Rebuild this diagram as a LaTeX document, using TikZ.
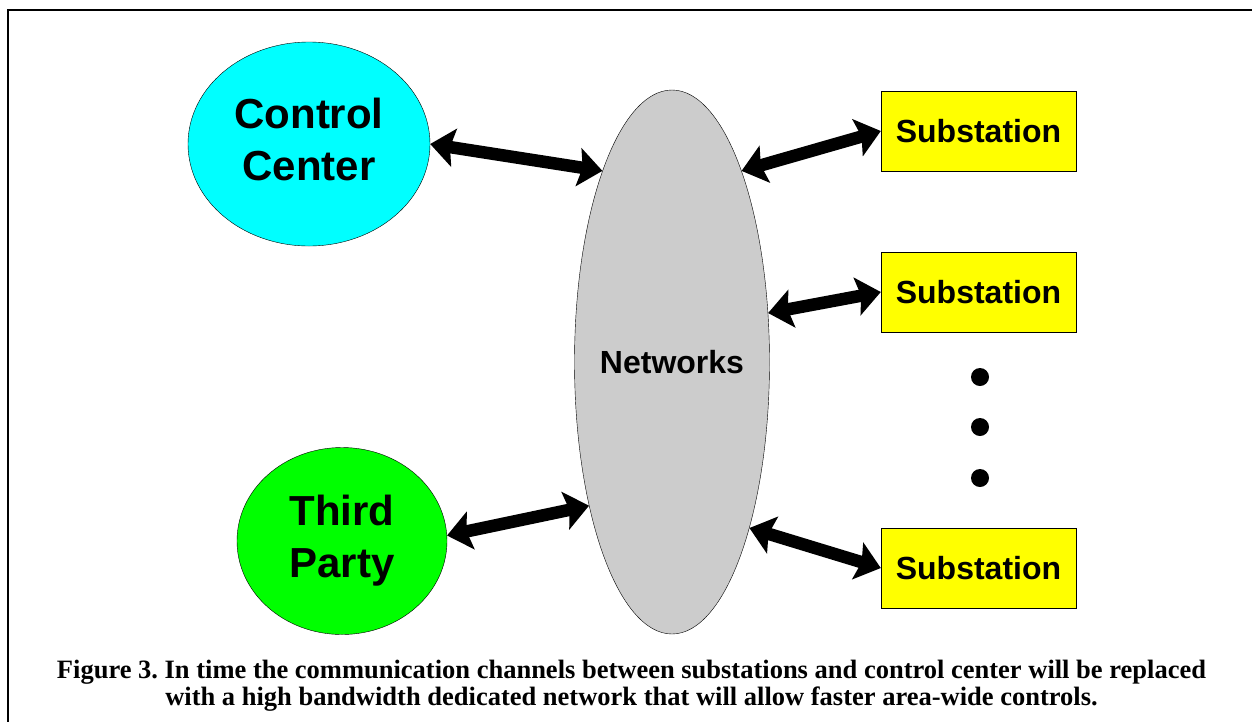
\documentclass[tikz,border=0pt]{standalone}
\usepackage{fontspec}
\setmainfont{Liberation Sans}
\newfontfamily\capfont{Liberation Serif}
\usepackage{tikz}
\usetikzlibrary{shapes.geometric}
\usetikzlibrary{arrows.meta}
\usetikzlibrary{positioning}
\definecolor{ccfill}{RGB}{0,255,255}
\definecolor{tpfill}{RGB}{0,255,0}
\definecolor{netfill}{RGB}{204,204,204}
\definecolor{subfill}{RGB}{255,255,0}

\begin{document}
\frenchspacing
\begin{tikzpicture}[
x=1pt,y=-1pt,
MyEllipse/.style={ellipse,draw=black,thin,inner sep=0pt,align=center,font=\bfseries\fontsize{42}{52}\selectfont},
SubBox/.style={rectangle,draw=black,thin,fill=subfill,minimum width=195pt,minimum height=80pt,font=\bfseries\fontsize{32}{38}\selectfont},
Link/.style={{Stealth[length=24pt,width=38pt,inset=4pt]}-{Stealth[length=24pt,width=38pt,inset=4pt]},line width=12.5pt,black},
MyDots/.style={fill=black}
]
\useasboundingbox (0,0) rectangle (1252,721);
\clip (0,0) rectangle (1252,721);

% frame round the figure
\draw[line width=2.5pt] (8,10) rectangle (1280,740);

% left side
\node[MyEllipse,fill=ccfill,minimum width=242pt,minimum height=204pt,text depth=10pt] (cc) at (309,144) {Control\\Center};
\node[MyEllipse,fill=tpfill,minimum width=210pt,minimum height=187pt] (tp) at (342,541) {Third\\Party};

% the network in the middle
\node[ellipse,draw=black,thin,fill=netfill,minimum width=195pt,minimum height=544pt,inner sep=0pt,
      label={[font=\bfseries\fontsize{32}{38}\selectfont]center:Networks}] (net) at (672,362) {};

% substations
\node[SubBox] (sub1) at (978.5,131) {Substation};
\node[SubBox] (sub2) at (978.5,292) {Substation};
\node[SubBox] (sub3) at (978.5,568) {Substation};

\foreach \y in {377,427,478}
  \fill[MyDots] (980,\y) circle (9pt);

% links
\draw[Link] (cc.east) -- (net.110);
\draw[Link] (tp.3) -- (net.240);
\draw[Link] (net.70) -- (sub1.west);
\draw[Link] (net.27) -- (sub2.west);
\draw[Link] (net.295) -- (sub3.west);

\node[align=center,anchor=north,inner sep=0pt,font=\capfont\bfseries\fontsize{26.5}{27}\selectfont] (cap) at (631.5,660)
  {Figure 3. In time the communication channels between substations and control center will be replaced\\
   with a high bandwidth dedicated network that will allow faster area-wide controls.};
\end{tikzpicture}
\end{document}
